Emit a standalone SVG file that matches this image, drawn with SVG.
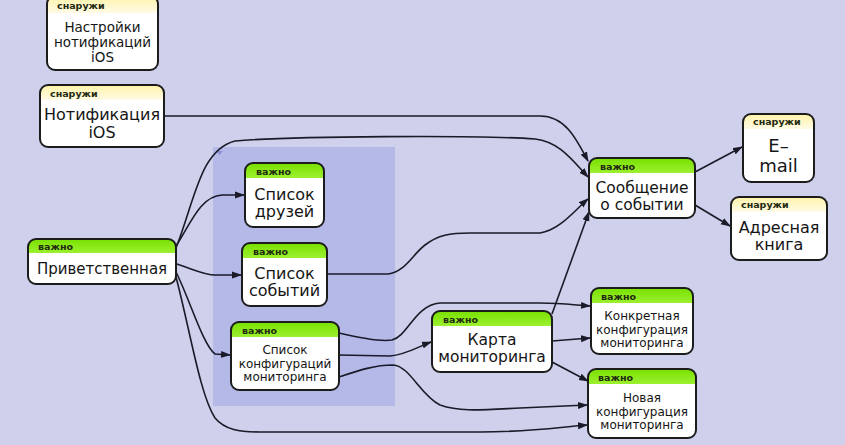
<svg xmlns="http://www.w3.org/2000/svg" width="845" height="445" viewBox="0 0 845 445">
<style>
.box{fill:#fff;stroke:none}
.brd{fill:none;stroke:#1c1c1c;stroke-width:2}
.hv{fill:url(#gV)}
.hs{fill:url(#gS)}
.lab{font-family:"DejaVu Sans",sans-serif;font-size:9.5px;font-weight:bold;fill:#1f2a10}
.t{font-family:"DejaVu Sans",sans-serif;fill:#151515;text-anchor:middle}
.conn{fill:none;stroke:#1a1a28;stroke-width:1.6}
</style>
<defs>
<linearGradient id="gV" x1="0" y1="0" x2="0" y2="1"><stop offset="0" stop-color="#78e000"/><stop offset="1" stop-color="#9cf030"/></linearGradient>
<linearGradient id="gS" x1="0" y1="0" x2="0" y2="1"><stop offset="0" stop-color="#fff3a8"/><stop offset="1" stop-color="#fffbe6"/></linearGradient>
<marker id="ar" markerWidth="10" markerHeight="8" refX="9" refY="4" orient="auto" markerUnits="userSpaceOnUse"><path d="M0,0.5 L10,4 L0,7.5 Z" fill="#1a1a28"/></marker>
</defs>
<rect width="845" height="445" fill="#cfd0ec"/>
<g id="group">
<rect x="213" y="147" width="182" height="259" fill="#b4b9e8"/>
<path d="M216,151 L223,151 L219.5,155 Z" fill="#8a90d8"/>
</g>
<g id="connectors">
<path class="conn" marker-end="url(#ar)" d="M164,116 L540,116 C565,116 576,138 588,161"/>
<path class="conn" marker-end="url(#ar)" d="M176,248 C195,200 200,150 235,141 C290,136 480,135 535,139 C560,142 572,160 588,177"/>
<path class="conn" marker-end="url(#ar)" d="M176,246 C190,225 200,196 222,195 L244,195"/>
<path class="conn" marker-end="url(#ar)" d="M177,264 C195,270 205,275 215,275 L241,275"/>
<path class="conn" marker-end="url(#ar)" d="M176,272 C190,300 203,345 215,354 L230,355"/>
<path class="conn" marker-end="url(#ar)" d="M176,277 C190,330 200,395 215,418 C225,430 240,432 260,432 L480,432 C530,432 560,427 587,425"/>
<path class="conn" marker-end="url(#ar)" d="M327,274 L388,274 C405,272 412,255 425,245 C438,235 450,233 470,233 L540,233 C560,230 575,210 588,199"/>
<path class="conn" marker-end="url(#ar)" d="M339,333 C360,338 380,342 392,340 C408,336 415,305 440,303 L540,303 C560,303 575,305 590,306"/>
<path class="conn" marker-end="url(#ar)" d="M339,355 L390,356 C405,355 420,346 431,342"/>
<path class="conn" marker-end="url(#ar)" d="M339,377 C360,370 375,365 393,365 C410,366 420,395 440,405 C460,412 480,410 520,408 L587,405"/>
<path class="conn" marker-end="url(#ar)" d="M552,314 L589,212"/>
<path class="conn" marker-end="url(#ar)" d="M552,341 L590,338"/>
<path class="conn" marker-end="url(#ar)" d="M552,362 L588,381"/>
<path class="conn" marker-end="url(#ar)" d="M695,172 L742,147"/>
<path class="conn" marker-end="url(#ar)" d="M695,205 L730,226"/>
</g>
<g id="n-settings">
<rect class="box" x="47" y="-4" width="111" height="74" rx="8"/>
<path class="hs" d="M47,13 V4 Q47,-4 55,-4 H150 Q158,-4 158,4 V13 Z"/>
<rect class="brd" x="47" y="-4" width="111" height="74" rx="8"/>
<text class="lab" x="57" y="9">снаружи</text>
<text class="t" x="102.5" y="31.5" font-size="13.5">Настройки</text>
<text class="t" x="102.5" y="46.5" font-size="13.5">нотификаций</text>
<text class="t" x="102.5" y="61.5" font-size="13.5">iOS</text>
</g>
<g id="n-notif">
<rect class="box" x="40" y="85" width="124" height="62" rx="8"/>
<path class="hs" d="M40,100 V93 Q40,85 48,85 H156 Q164,85 164,93 V100 Z"/>
<rect class="brd" x="40" y="85" width="124" height="62" rx="8"/>
<text class="lab" x="50" y="97">снаружи</text>
<text class="t" x="102" y="120" font-size="16">Нотификация</text>
<text class="t" x="102" y="138" font-size="16">iOS</text>
</g>
<g id="n-welcome">
<rect class="box" x="28" y="239" width="148" height="45" rx="8"/>
<path class="hv" d="M28,253 V247 Q28,239 36,239 H168 Q176,239 176,247 V253 Z"/>
<rect class="brd" x="28" y="239" width="148" height="45" rx="8"/>
<text class="lab" x="38" y="250">важно</text>
<text class="t" x="102" y="274" font-size="15">Приветственная</text>
</g>
<g id="n-friends">
<rect class="box" x="245" y="163" width="79" height="64" rx="8"/>
<path class="hv" d="M245,178 V171 Q245,163 253,163 H316 Q324,163 324,171 V178 Z"/>
<rect class="brd" x="245" y="163" width="79" height="64" rx="8"/>
<text class="lab" x="256" y="175">важно</text>
<text class="t" x="284.5" y="199.5" font-size="16">Список</text>
<text class="t" x="284.5" y="217" font-size="16">друзей</text>
</g>
<g id="n-events">
<rect class="box" x="242" y="243" width="85" height="63" rx="8"/>
<path class="hv" d="M242,258 V251 Q242,243 250,243 H319 Q327,243 327,251 V258 Z"/>
<rect class="brd" x="242" y="243" width="85" height="63" rx="8"/>
<text class="lab" x="253" y="255">важно</text>
<text class="t" x="284.5" y="278.5" font-size="16">Список</text>
<text class="t" x="284.5" y="296" font-size="16">событий</text>
</g>
<g id="n-configs">
<rect class="box" x="231" y="322" width="108" height="68" rx="8"/>
<path class="hv" d="M231,337 V330 Q231,322 239,322 H331 Q339,322 339,330 V337 Z"/>
<rect class="brd" x="231" y="322" width="108" height="68" rx="8"/>
<text class="lab" x="242" y="334">важно</text>
<text class="t" x="285" y="354" font-size="12">Список</text>
<text class="t" x="285" y="367.5" font-size="12">конфигураций</text>
<text class="t" x="285" y="381" font-size="12">мониторинга</text>
</g>
<g id="n-map">
<rect class="box" x="432" y="311" width="120" height="61" rx="8"/>
<path class="hv" d="M432,326 V319 Q432,311 440,311 H544 Q552,311 552,319 V326 Z"/>
<rect class="brd" x="432" y="311" width="120" height="61" rx="8"/>
<text class="lab" x="443" y="323">важно</text>
<text class="t" x="492" y="344.5" font-size="15.5">Карта</text>
<text class="t" x="492" y="362" font-size="15.5">мониторинга</text>
</g>
<g id="n-message">
<rect class="box" x="589" y="158" width="106" height="60" rx="8"/>
<path class="hv" d="M589,173 V166 Q589,158 597,158 H687 Q695,158 695,166 V173 Z"/>
<rect class="brd" x="589" y="158" width="106" height="60" rx="8"/>
<text class="lab" x="600" y="170">важно</text>
<text class="t" x="642" y="192.5" font-size="15.5">Сообщение</text>
<text class="t" x="642" y="210" font-size="15.5">о событии</text>
</g>
<g id="n-email">
<rect class="box" x="743" y="114" width="71" height="68" rx="8"/>
<path class="hs" d="M743,129 V122 Q743,114 751,114 H806 Q814,114 814,122 V129 Z"/>
<rect class="brd" x="743" y="114" width="71" height="68" rx="8"/>
<text class="lab" x="753" y="125">снаружи</text>
<text class="t" x="778.5" y="152" font-size="18">E–</text>
<text class="t" x="778.5" y="172" font-size="18">mail</text>
</g>
<g id="n-address">
<rect class="box" x="731" y="197" width="96" height="63" rx="8"/>
<path class="hs" d="M731,212 V205 Q731,197 739,197 H819 Q827,197 827,205 V212 Z"/>
<rect class="brd" x="731" y="197" width="96" height="63" rx="8"/>
<text class="lab" x="741" y="208">снаружи</text>
<text class="t" x="779" y="232.5" font-size="16">Адресная</text>
<text class="t" x="779" y="250" font-size="16">книга</text>
</g>
<g id="n-concrete">
<rect class="box" x="591" y="288" width="102" height="66" rx="8"/>
<path class="hv" d="M591,303 V296 Q591,288 599,288 H685 Q693,288 693,296 V303 Z"/>
<rect class="brd" x="591" y="288" width="102" height="66" rx="8"/>
<text class="lab" x="601" y="300">важно</text>
<text class="t" x="642" y="320" font-size="12">Конкретная</text>
<text class="t" x="642" y="333.5" font-size="12">конфигурация</text>
<text class="t" x="642" y="347" font-size="12">мониторинга</text>
</g>
<g id="n-new">
<rect class="box" x="588" y="369" width="108" height="69" rx="8"/>
<path class="hv" d="M588,384 V377 Q588,369 596,369 H688 Q696,369 696,377 V384 Z"/>
<rect class="brd" x="588" y="369" width="108" height="69" rx="8"/>
<text class="lab" x="598" y="381">важно</text>
<text class="t" x="642" y="402" font-size="12">Новая</text>
<text class="t" x="642" y="415.5" font-size="12">конфигурация</text>
<text class="t" x="642" y="429" font-size="12">мониторинга</text>
</g>
</svg>
